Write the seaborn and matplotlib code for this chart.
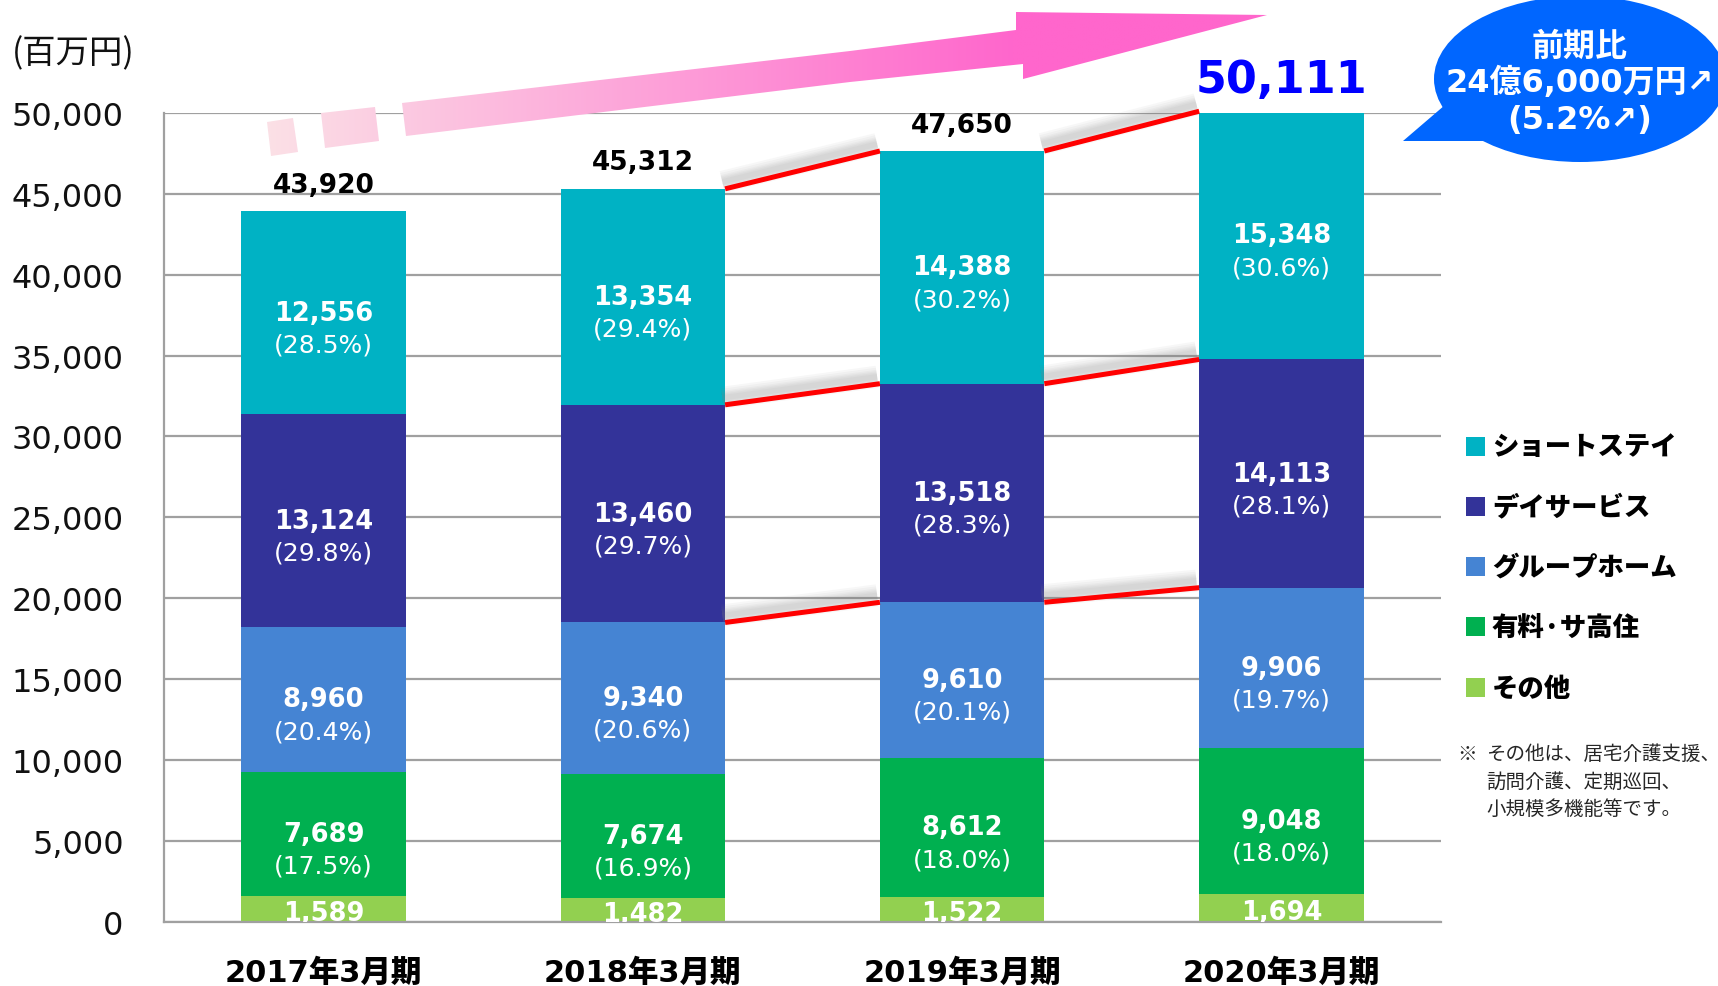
import numpy as np
import pandas as pd
import seaborn as sns
import matplotlib.pyplot as plt
import matplotlib.patheffects as pe
from matplotlib.colors import LinearSegmentedColormap
from matplotlib.patches import Polygon, Ellipse, Rectangle

# ------------------------------------------------------------
# data (百万円)
# ------------------------------------------------------------
periods = ['2017年3月期', '2018年3月期', '2019年3月期', '2020年3月期']
segments = ['その他', '有料·サ高住', 'グループホーム', 'デイサービス', 'ショートステイ']
seg_colors = ['#92D050', '#00B050', '#4584D3', '#333399', '#00B2C4']

other = [1589, 1482, 1522, 1694]
yuryo = [7689, 7674, 8612, 9048]
group_home = [8960, 9340, 9610, 9906]
day_service = [13124, 13460, 13518, 14113]
short_stay = [12556, 13354, 14388, 15348]

yuryo_pct = [17.5, 16.9, 18.0, 18.0]
group_pct = [20.4, 20.6, 20.1, 19.7]
day_pct = [29.8, 29.7, 28.3, 28.1]
short_pct = [28.5, 29.4, 30.2, 30.6]

totals = [43920, 45312, 47650, 50111]
yticks = list(range(0, 50001, 5000))

note_lines = ['その他は、居宅介護支援、', '訪問介護、定期巡回、', '小規模多機能等です。']
bubble_lines = ['前期比', '24億6,000万円↗', '(5.2%↗)']

values = [other, yuryo, group_home, day_service, short_stay]
pcts = [None, yuryo_pct, group_pct, day_pct, short_pct]

rows = []
for seg, vals in zip(segments, values):
    for p, v in zip(periods, vals):
        rows.append({'period': p, 'segment': seg, 'value': v})
df = pd.DataFrame(rows)
df['cum'] = df.groupby('period')['value'].cumsum()
df['mid'] = df['cum'] - df['value'] / 2

# ------------------------------------------------------------
# figure
# ------------------------------------------------------------
sns.set_style('white')
plt.rcParams['font.family'] = ['DejaVu Sans', 'Noto Sans CJK JP']

W, H = 1718, 987
fig = plt.figure(figsize=(W / 100, H / 100), dpi=100)
ax = fig.add_axes([164 / W, 1 - 922.6 / H, (1441 - 164) / W, (922.6 - 114) / H])

bar_w = 0.515
# stacked bars: draw cumulative heights from the top segment down
for seg, col in reversed(list(zip(segments, seg_colors))):
    d = df[df['segment'] == seg]
    sns.barplot(data=d, x='period', y='cum', order=periods, color=col, width=bar_w,
                saturation=1, errorbar=None, linewidth=0, ax=ax)

grid_c = '#A0A0A0'
ax.set_xlim(-0.5, 3.5)
ax.set_ylim(0, 50000)
ax.set_yticks(yticks)
ax.set_yticklabels([f'{t:,}' for t in yticks])
ax.yaxis.grid(True, color=grid_c, lw=1.6)
ax.xaxis.grid(False)
ax.set_axisbelow(True)
ax.set_xlabel('')
ax.set_ylabel('')
for s in ['top', 'right']:
    ax.spines[s].set_visible(False)
for s in ['left', 'bottom']:
    ax.spines[s].set_color(grid_c)
    ax.spines[s].set_linewidth(1.6)

ax.tick_params(axis='y', length=9, width=1.6, color=grid_c, labelsize=23, pad=20, labelcolor='#111111')
ax.tick_params(axis='x', which='major', length=0, labelsize=22, pad=26, labelcolor='#000000')
ax.set_xticks(np.arange(-0.5, 4.0, 1.0), minor=True)
ax.tick_params(axis='x', which='minor', length=8, width=1.6, color=grid_c)
for lbl in ax.get_xticklabels():
    lbl.set_fontweight('heavy')

# segment labels
for k, seg in enumerate(segments):
    d = df[df['segment'] == seg].reset_index(drop=True)
    for i, r in d.iterrows():
        dy = -3 if pcts[k] is None else 0
        ax.annotate(f"{r['value']:,}", (i, r['mid']), xytext=(0, dy), textcoords='offset points',
                    ha='center', va='center', color='white', fontsize=18.5, fontweight='bold',
                    annotation_clip=True, clip_on=True, zorder=6)
        if pcts[k] is not None:
            ax.annotate(f'({pcts[k][i]:.1f}%)', (i, r['mid']), xytext=(0, -23),
                        textcoords='offset points', ha='center', va='center',
                        color='white', fontsize=18, zorder=6)

# red growth connectors between bars, with a soft grey shadow
cum = df.pivot(index='period', columns='segment', values='cum').loc[periods]
shadow = [pe.SimpleLineShadow(offset=(-2, 5), shadow_color='#808080', alpha=0.06, linewidth=w)
          for w in [16, 13, 10, 8, 6, 4]] + [pe.Normal()]
for seg in ['グループホーム', 'デイサービス', 'ショートステイ']:
    lvl = cum[seg].values
    for i in [1, 2]:
        ax.plot([i + bar_w / 2, i + 1 - bar_w / 2], [lvl[i], lvl[i + 1]], color='#FF0000',
                lw=3.6, solid_capstyle='butt', clip_on=False, zorder=5, path_effects=shadow)

# totals
for i, t in enumerate(totals):
    top = min(t, 50000)
    if i < 3:
        ax.annotate(f'{t:,}', (i, top), xytext=(0, 19), textcoords='offset points',
                    ha='center', va='center', fontsize=19, fontweight='bold', color='black',
                    annotation_clip=False)
    else:
        ax.annotate(f'{t:,}', (i, top), xytext=(0, 24), textcoords='offset points',
                    ha='center', va='center', fontsize=32, fontweight='bold', color='#0000FF',
                    annotation_clip=False)

# ------------------------------------------------------------
# overlay: arrow, bubble, legend, notes (pixel coordinates)
# ------------------------------------------------------------
ov = fig.add_axes([0, 0, 1, 1], zorder=10)
ov.set_xlim(0, W)
ov.set_ylim(H, 0)
ov.axis('off')

pink = LinearSegmentedColormap.from_list('pink', ['#FBE0E6', '#FF66CC'])
xs = np.linspace(267, 1270, 400)
grad = np.clip((xs - 267) / (1016 - 267), 0, 1)[None, :]
arrow_parts = [
    [(267, 123), (293, 119), (298, 153), (271, 157)],
    [(321, 114), (375, 108), (379, 142), (325, 149)],
    [(402, 104), (850, 52), (1016, 31), (1016, 13), (1267, 16), (1023, 80), (1023, 65),
     (850, 83), (406, 137)],
]
for part in arrow_parts:
    poly = Polygon(part, closed=True, facecolor='none', edgecolor='none')
    ov.add_patch(poly)
    im = ov.imshow(grad, cmap=pink, extent=[267, 1270, 160, 10], aspect='auto',
                   vmin=0, vmax=1, interpolation='bilinear')
    im.set_clip_path(poly)
ov.set_xlim(0, W)
ov.set_ylim(H, 0)

ov.text(12, 54, '(百万円)', ha='left', va='center', fontsize=24, family=['Noto Sans CJK JP'],
        color='#111111')

# bubble
bubble_c = '#0066FF'
ov.add_patch(Ellipse((1580, 80), 292, 166, facecolor=bubble_c, edgecolor='none'))
ov.add_patch(Polygon([(1403, 142), (1452, 100), (1492, 142)], closed=True,
                     facecolor=bubble_c, edgecolor='none'))
for y, line in zip([47, 83, 120], bubble_lines):
    ov.text(1580, y, line, ha='center', va='center', color='white', fontsize=23,
            fontweight='bold')

# legend
for i, (seg, col) in enumerate(reversed(list(zip(segments, seg_colors)))):
    y = 447 + i * 60.3
    ov.add_patch(Rectangle((1466, y - 9.5), 19, 19, facecolor=col, edgecolor='none'))
    ov.text(1492, y, seg, ha='left', va='center', fontsize=19, fontweight='heavy',
            family=['Noto Sans CJK JP', 'DejaVu Sans'], color='black')

# note
ov.text(1457, 754, '※', ha='left', va='center', fontsize=14, family=['Noto Sans CJK JP'])
for y, line in zip([754, 782, 809], note_lines):
    ov.text(1486, y, line, ha='left', va='center', fontsize=14, family=['Noto Sans CJK JP'])

fig.savefig('out.png', dpi=100, facecolor='white')
